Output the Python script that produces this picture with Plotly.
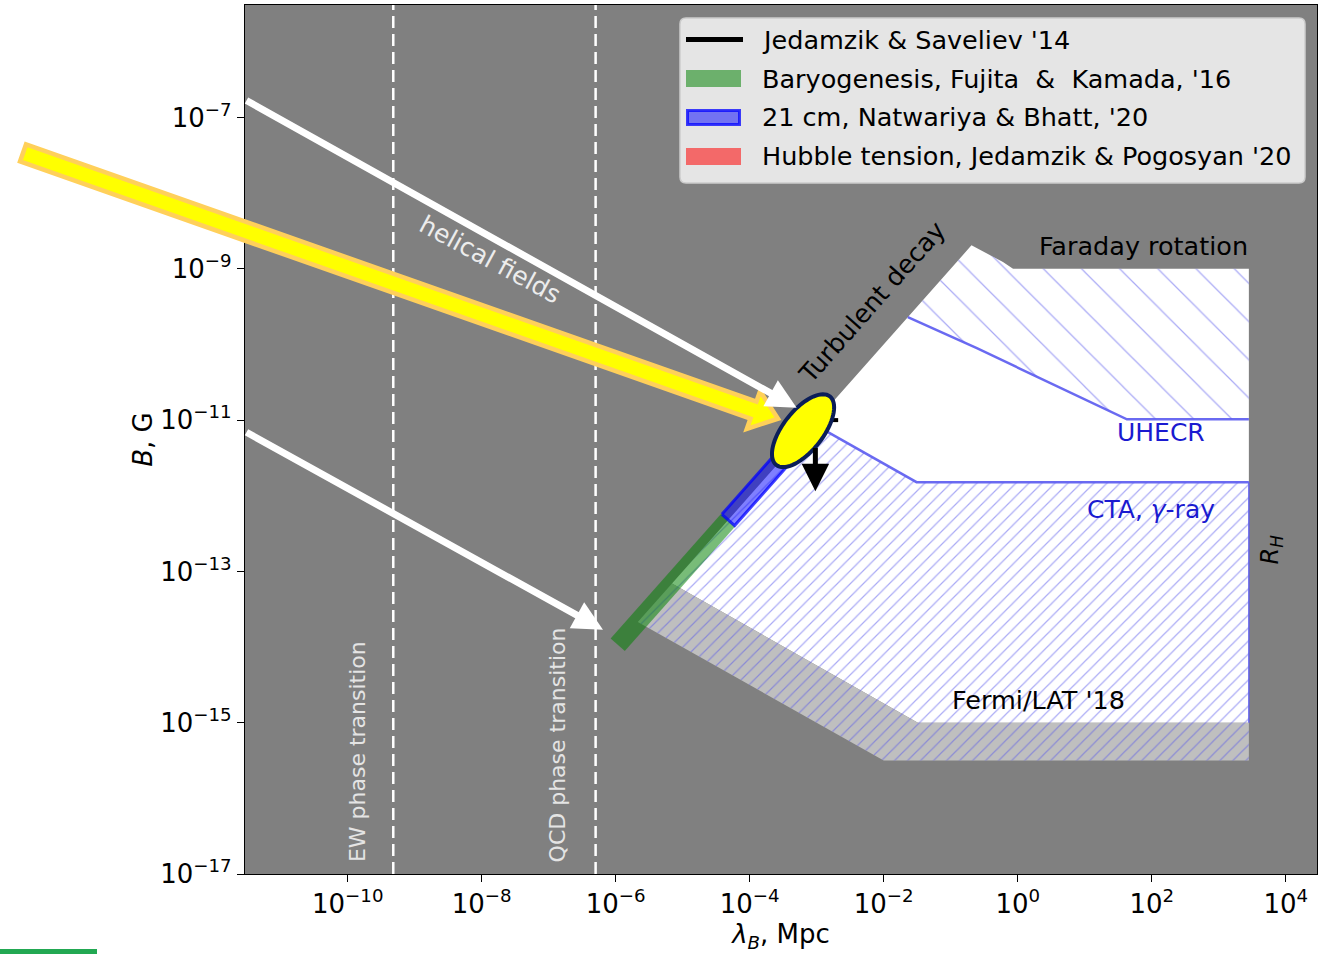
import math
import plotly.graph_objects as go

# ---------------- figure geometry ----------------
W, H = 1328, 954
ML, MR, MT, MB = 245, 11, 5, 80
XR = [-11.533, 4.467]      # log10(lambda_B / Mpc) range
YR = [-17.0, -5.513]       # log10(B / G) range
FONT = "DejaVu Sans"

# ---------------- data (log10 values) ----------------
# allowed (white) region: turbulent-decay edge, Faraday rotation top, R_H right, Fermi/LAT bottom
white_x = [-5.16, -0.69, -0.22, -0.07, 3.45, 3.45, -1.49, -5.16]
white_y = [-13.16, -8.69, -8.91, -9.00, -9.00, -15.00, -15.00, -13.16]

# Fermi/LAT '18 band
fermi_x = [-5.67, -5.16, -1.49, 3.45, 3.45, -2.00, -5.67]
fermi_y = [-13.67, -13.16, -15.00, -15.00, -15.50, -15.50, -13.67]

# CTA, gamma-ray hatched region
cta_x = [-5.67, -3.05, -1.51, 3.45, 3.45, -2.00, -5.67]
cta_y = [-13.67, -11.05, -11.82, -11.82, -15.50, -15.50, -13.67]

# UHECR hatched region
uhecr_x = [-1.64, -0.69, -0.22, -0.07, 3.45, 3.45, 1.63, -0.61, -1.64]
uhecr_y = [-9.64, -8.69, -8.91, -9.00, -9.00, -10.99, -10.99, -10.05, -9.64]

# boundary lines
uhecr_line_x = [-1.64, -0.61, 1.63, 3.45]
uhecr_line_y = [-9.64, -10.05, -10.99, -10.99]
cta_line_x = [-3.05, -1.51, 3.45]
cta_line_y = [-11.05, -11.82, -11.82]
rh_line_x = [3.45, 3.45]
rh_line_y = [-11.82, -15.00]

# constraint bands (centre lines)
green_x = [-5.97, -4.32]
green_y = [-13.97, -12.32]
blue_x = [-4.32, -3.30]
blue_y = [-12.32, -11.30]
red_x = [-3.40, -3.00]
red_y = [-11.40, -11.00]
js_x = [-3.00, -2.68]
js_y = [-11.00, -11.00]

# phase transitions
ew_x = -9.32
qcd_x = -6.30

# ticks
x_tick_exp = [-10, -8, -6, -4, -2, 0, 2, 4]
y_tick_exp = [-17, -15, -13, -11, -9, -7]

# arrows (tail, tip) in log10 coords
helical_arrows = [((-11.533, -6.765), (-3.30, -10.836)),
                  ((-11.533, -11.15), (-6.19, -13.77))]
js_arrow = ((-3.02, -11.35), (-3.02, -11.94))
yellow_tail = (-14.846, -7.469)
yellow_tip = (-3.578, -10.981)
ellipse_center = (-3.204, -11.14)

# text labels
label_text = ["helical fields", "Turbulent decay", "Faraday rotation", "UHECR",
              "CTA, <i>γ</i>-ray", "<i>R<sub>H</sub></i>", "Fermi/LAT '18",
              "EW phase transition", "QCD phase transition"]
label_x = [-7.876, -2.175, 1.870, 2.139, 1.990, 3.791, 0.303, -9.855, -6.876]
label_y = [-8.88, -9.435, -8.695, -11.167, -12.184, -12.713, -14.696, -15.383, -15.30]
label_angle = [28.4, -48.5, 0, 0, 0, -90, 0, -90, -90]
label_color = ["#ececec", "black", "black", "#1a1ad0", "#1a1ad0", "black", "black",
               "#e4e4e4", "#e4e4e4"]
label_size = [25, 25.5, 25.5, 25, 25, 24, 25.5, 22, 22]

legend_names = ["Jedamzik & Saveliev '14",
                "Baryogenesis, Fujita\u00a0 &\u00a0 Kamada, '16",
                "21 cm, Natwariya & Bhatt, '20",
                "Hubble tension, Jedamzik & Pogosyan '20"]
legend_fill = [None, "rgba(0,128,0,0.53)", "rgba(0,0,255,0.5)", "rgba(255,0,0,0.54)"]
legend_edge = [None, None, "rgba(0,0,255,0.75)", None]

# ---------------- helpers ----------------
PW = W - ML - MR
PH = H - MT - MB
SX = PW / (XR[1] - XR[0])
SY = PH / (YR[1] - YR[0])


def lin(v):
    return [10 ** a for a in v]


def to_px(lx, ly):
    return ML + (lx - XR[0]) * SX, MT + (YR[1] - ly) * SY


def px_to_paper(px, py):
    return (px - ML) / PW, 1 - (py - MT) / PH


def pp(px, py):
    a, b = px_to_paper(px, py)
    return f"{a:.5f},{b:.5f}"


def path_from_px(pts, close=True):
    s = ""
    for i, (px, py) in enumerate(pts):
        s += ("M" if i == 0 else "L") + pp(px, py) + " "
    return s + ("Z" if close else "")


def band_polygon(xs, ys, half_px):
    dx = (xs[1] - xs[0]) * SX
    dy = (ys[1] - ys[0]) * SY
    L = math.hypot(dx, dy)
    nx, ny = -dy / L, dx / L
    ox, oy = nx * half_px / SX, ny * half_px / SY
    px = [xs[0] + ox, xs[1] + ox, xs[1] - ox, xs[0] - ox, xs[0] + ox]
    py = [ys[0] + oy, ys[1] + oy, ys[1] - oy, ys[0] - oy, ys[0] + oy]
    return lin(px), lin(py)


fig = go.Figure()
skip = dict(hoverinfo="skip", showlegend=False)

fig.add_trace(go.Scatter(x=lin(white_x), y=lin(white_y), mode="lines", fill="toself",
                         fillcolor="white", line=dict(width=0), **skip))
fig.add_trace(go.Scatter(x=lin(fermi_x), y=lin(fermi_y), mode="lines", fill="toself",
                         fillcolor="rgb(191,191,191)", line=dict(width=0), **skip))
fig.add_trace(go.Scatter(x=lin(cta_x), y=lin(cta_y), mode="lines", fill="toself",
                         fillcolor="rgba(0,0,0,0)", line=dict(width=0),
                         fillpattern=dict(shape="/", fgcolor="rgb(85,85,235)",
                                          bgcolor="rgba(0,0,0,0)", size=9.2, solidity=0.13),
                         **skip))
fig.add_trace(go.Scatter(x=lin(uhecr_x), y=lin(uhecr_y), mode="lines", fill="toself",
                         fillcolor="rgba(0,0,0,0)", line=dict(width=0),
                         fillpattern=dict(shape="\\", fgcolor="rgb(85,85,235)",
                                          bgcolor="rgba(0,0,0,0)", size=27, solidity=0.045),
                         **skip))
for lx, ly, w in [(uhecr_line_x, uhecr_line_y, 2.5), (cta_line_x, cta_line_y, 2.5),
                  (rh_line_x, rh_line_y, 1.5)]:
    fig.add_trace(go.Scatter(x=lin(lx), y=lin(ly), mode="lines",
                             line=dict(color="rgba(90,90,240,0.9)", width=w), **skip))

for vx in [ew_x, qcd_x]:
    fig.add_trace(go.Scatter(x=[10 ** vx, 10 ** vx], y=[10 ** YR[0], 10 ** YR[1]], mode="lines",
                             line=dict(color="white", width=2.5, dash="12px,6px"), **skip))

gx, gy = band_polygon(green_x, green_y, 9.5)
fig.add_trace(go.Scatter(x=gx, y=gy, mode="lines", fill="toself", fillcolor=legend_fill[1],
                         line=dict(width=0), name=legend_names[1], **skip))
bx, by = band_polygon(blue_x, blue_y, 8.5)
fig.add_trace(go.Scatter(x=bx, y=by, mode="lines", fill="toself", fillcolor=legend_fill[2],
                         line=dict(color=legend_edge[2], width=3), name=legend_names[2], **skip))
rx, ry = band_polygon(red_x, red_y, 6)
fig.add_trace(go.Scatter(x=rx, y=ry, mode="lines", fill="toself", fillcolor=legend_fill[3],
                         line=dict(width=0), name=legend_names[3], **skip))
fig.add_trace(go.Scatter(x=lin(js_x), y=lin(js_y), mode="lines", line=dict(color="black", width=4),
                         name=legend_names[0], **skip))

# ---------------- annotations ----------------
annotations = []
for (t, h) in helical_arrows:
    annotations.append(dict(x=h[0], y=h[1], ax=t[0], ay=t[1], xref="x", yref="y", axref="x",
                            ayref="y", text="", showarrow=True, arrowhead=2, arrowsize=0.85,
                            arrowwidth=7, arrowcolor="white"))
annotations.append(dict(x=js_arrow[1][0], y=js_arrow[1][1], ax=js_arrow[0][0], ay=js_arrow[0][1],
                        xref="x", yref="y", axref="x", ayref="y", text="", showarrow=True,
                        arrowhead=2, arrowsize=1.1, arrowwidth=5, arrowcolor="black"))
for t, x, y, a, c, s in zip(label_text, label_x, label_y, label_angle, label_color, label_size):
    annotations.append(dict(x=x, y=y, xref="x", yref="y", text=t, textangle=a, showarrow=False,
                            font=dict(family=FONT, size=s, color=c),
                            xanchor="center", yanchor="middle"))

# ---------------- shapes (overlay arrow + ellipse) ----------------
shapes = []
tx, ty = to_px(*yellow_tail)
hx, hy = to_px(*yellow_tip)
L = math.hypot(hx - tx, hy - ty)
ux, uy = (hx - tx) / L, (hy - ty) / L
nx, ny = -uy, ux
w, hw, hl = 9.0, 20.0, 26.0
bxp, byp = hx - hl * ux, hy - hl * uy
arrow_pts = [(tx + w * nx, ty + w * ny), (bxp + w * nx, byp + w * ny), (bxp + hw * nx, byp + hw * ny),
             (hx, hy), (bxp - hw * nx, byp - hw * ny), (bxp - w * nx, byp - w * ny),
             (tx - w * nx, ty - w * ny)]
shapes.append(dict(type="path", path=path_from_px(arrow_pts), xref="paper", yref="paper",
                   fillcolor="#ffff00", line=dict(color="#ffd05a", width=4.5), layer="above"))

cx, cy = to_px(*ellipse_center)
a_ax, b_ax, th = 43.5, 20.0, math.radians(52)
ell = []
for i in range(73):
    t = 2 * math.pi * i / 72
    ex = a_ax * math.cos(t) * math.cos(th) - b_ax * math.sin(t) * math.sin(th)
    ey = a_ax * math.cos(t) * math.sin(th) + b_ax * math.sin(t) * math.cos(th)
    ell.append((cx + ex, cy - ey))
shapes.append(dict(type="path", path=path_from_px(ell), xref="paper", yref="paper",
                   fillcolor="#ffff00", line=dict(color="#0b1e58", width=4), layer="above"))

# small green mark at the bottom-left corner of the page
g0 = px_to_paper(0, 949)
g1 = px_to_paper(97, 954)
shapes.append(dict(type="rect", x0=g0[0], y0=g0[1], x1=g1[0], y1=g1[1], xref="paper", yref="paper",
                   fillcolor="#22a852", line=dict(width=0), layer="above"))

# ---------------- legend (drawn as rounded box, symbols and texts) ----------------
LEG_BOX = (680, 18, 1305, 183)      # px
LEG_ROW0, LEG_DY = 39.5, 39.0
x0b, y0b, x1b, y1b = LEG_BOX
r = 6
box_path = ("M" + pp(x0b + r, y0b) + " L" + pp(x1b - r, y0b) + " Q" + pp(x1b, y0b) + " " + pp(x1b, y0b + r)
            + " L" + pp(x1b, y1b - r) + " Q" + pp(x1b, y1b) + " " + pp(x1b - r, y1b)
            + " L" + pp(x0b + r, y1b) + " Q" + pp(x0b, y1b) + " " + pp(x0b, y1b - r)
            + " L" + pp(x0b, y0b + r) + " Q" + pp(x0b, y0b) + " " + pp(x0b + r, y0b) + " Z")
shapes.append(dict(type="path", path=box_path, xref="paper", yref="paper",
                   fillcolor="rgba(229,229,229,1)", line=dict(color="#cccccc", width=1.5),
                   layer="above"))
for i, name in enumerate(legend_names):
    yc = LEG_ROW0 + i * LEG_DY
    if legend_fill[i] is None:
        p0 = px_to_paper(686, yc)
        p1 = px_to_paper(743, yc)
        shapes.append(dict(type="line", x0=p0[0], y0=p0[1], x1=p1[0], y1=p1[1], xref="paper",
                           yref="paper", line=dict(color="black", width=5), layer="above"))
    else:
        inset = 1.5 if legend_edge[i] else 0
        p0 = px_to_paper(686 + inset, yc + 8.5 - inset)
        p1 = px_to_paper(741 - inset, yc - 8.5 + inset)
        shapes.append(dict(type="rect", x0=p0[0], y0=p0[1], x1=p1[0], y1=p1[1], xref="paper",
                           yref="paper", fillcolor=legend_fill[i],
                           line=dict(color=legend_edge[i] or "rgba(0,0,0,0)",
                                     width=3 if legend_edge[i] else 0), layer="above"))
    tp = px_to_paper(760, yc)
    annotations.append(dict(x=tp[0], y=tp[1], xref="paper", yref="paper", text=name,
                            showarrow=False, xanchor="left", yanchor="middle",
                            font=dict(family=FONT, size=25.5, color="black")))

fig.update_layout(
    width=W, height=H,
    margin=dict(l=ML, r=MR, t=MT, b=MB, pad=0),
    paper_bgcolor="white", plot_bgcolor="#808080",
    font=dict(family=FONT, size=25, color="black"),
    xaxis=dict(type="log", range=XR, tickmode="array",
               tickvals=[10.0 ** e for e in x_tick_exp],
               ticktext=[f"10<sup>{str(e).replace('-', '−')}</sup>" for e in x_tick_exp],
               ticks="outside", ticklen=7, tickwidth=1.3, tickcolor="black",
               showline=True, linecolor="black", linewidth=1.3, mirror=True,
               showgrid=False, zeroline=False, tickfont=dict(size=26),
               title=dict(text="<i>λ<sub>B</sub></i>, Mpc", font=dict(size=26), standoff=6)),
    yaxis=dict(type="log", range=YR, tickmode="array",
               tickvals=[10.0 ** e for e in y_tick_exp],
               ticktext=[f"10<sup>{str(e).replace('-', '−')}</sup>" for e in y_tick_exp],
               ticks="outside", ticklen=7, tickwidth=1.3, tickcolor="black",
               showline=True, linecolor="black", linewidth=1.3, mirror=True,
               showgrid=False, zeroline=False, tickfont=dict(size=26),
               title=dict(text="<i>B</i>, G", font=dict(size=26), standoff=0)),
    annotations=annotations,
    shapes=shapes,
    showlegend=False,
)

fig.write_html("out.html")
